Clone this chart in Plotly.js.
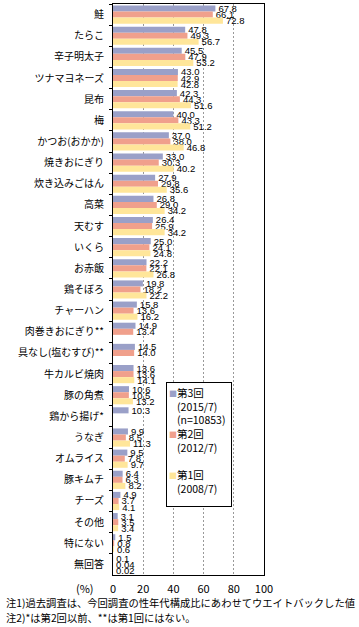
<!DOCTYPE html>
<html><head><meta charset="utf-8">
<script src="https://cdn.plot.ly/plotly-3.0.1.min.js"></script>
<style>html,body{margin:0;padding:0;background:#fff}</style>
</head><body><div id="chart" style="width:359px;height:627px"></div>
<script>
const categories = ['鮭','たらこ','辛子明太子','ツナマヨネーズ','昆布','梅','かつお(おかか)','焼きおにぎり','炊き込みごはん','高菜','天むす','いくら','お赤飯','鶏そぼろ','チャーハン','肉巻きおにぎり**','具なし(塩むすび)**','牛カルビ焼肉','豚の角煮','鶏から揚げ*','うなぎ','オムライス','豚キムチ','チーズ','その他','特にない','無回答'];
const round3 = [67.8,47.8,45.5,43.0,42.3,40.0,37.0,33.0,27.9,26.8,26.4,25.0,22.2,19.8,15.8,14.9,14.5,13.6,10.6,10.3,9.9,9.5,6.4,4.9,3.1,1.5,0.1];
const round2 = [66.1,49.3,47.9,42.9,44.3,43.3,38.0,30.3,29.8,29.0,25.9,24.1,22.1,18.2,13.6,13.4,14.0,13.6,10.5,null,8.5,7.8,6.3,3.7,3.5,0.8,0.04];
const round1 = [72.8,56.7,53.2,42.8,51.6,51.2,46.8,40.2,35.6,34.2,34.2,24.8,26.8,22.2,16.2,null,null,14.1,13.2,null,11.3,9.7,8.2,4.1,3.4,0.6,0.02];
const seriesNames = ['第3回','第2回','第1回'];
const periods = ['(2015/7)','(2012/7)','(2008/7)'];
const sampleNote = '(n=10853)';
const xTicks = [0,20,40,60,80,100];
const notes = ['注1)過去調査は、今回調査の性年代構成比にあわせてウエイトバックした値','注2)*は第2回以前、**は第1回にはない。'];

const colors = ['#9AA0C8','#F0A08C','#FFE69A'];
const FONT = '"Noto Sans CJK JP", "Noto Sans", sans-serif';

function fmt(v){
  if(v===null) return '';
  return Math.abs(Math.round(v*10)-v*10)<1e-9 ? v.toFixed(1) : String(v);
}

const allSeries = [round3, round2, round1];
const traces = allSeries.map((vals,i)=>({
  type:'bar', orientation:'h',
  name: seriesNames[i],
  y: categories, x: vals,
  text: vals.map(fmt),
  textposition:'outside',
  constraintext:'none',
  cliponaxis:false,
  textfont:{family:'"Liberation Sans", Arial, sans-serif', size:9.5, color:'#000'},
  marker:{color:colors[i], line:{width:0}},
  hoverinfo:'x+y',
  showlegend:false
}));

const hidden = '<span style="color:#ffffff;font-size:8px">■</span>';
function sw(i){ return '<span style="color:'+colors[i]+';font-size:8px">■</span>'; }
const legendText = [
  sw(0)+seriesNames[0], hidden+periods[0], hidden+sampleNote,
  sw(1)+seriesNames[1], hidden+periods[1], ' ',
  sw(2)+seriesNames[2], hidden+periods[2]
].join('<br>');

const layout = {
  width:359, height:627,
  margin:{l:113, r:95, t:4, b:52},
  paper_bgcolor:'#fff', plot_bgcolor:'#fff',
  font:{family:FONT, size:10, color:'#000'},
  barmode:'group', bargap:0.14, bargroupgap:0,
  xaxis:{
    range:[0,100], tickvals:xTicks, ticktext:xTicks.map(String),
    showgrid:true, gridcolor:'#999', griddash:'2px,2px', gridwidth:1,
    showline:true, linecolor:'#000', linewidth:1, mirror:true,
    ticks:'', zeroline:false, ticklabelstandoff:4,
    tickfont:{family:FONT, size:11, color:'#000'}, fixedrange:true
  },
  yaxis:{
    type:'category', autorange:'reversed',
    showline:true, linecolor:'#000', linewidth:1, mirror:true,
    ticks:'outside', ticklen:3, tickcolor:'#000', tickson:'boundaries',
    showgrid:false, ticklabelstandoff:6,
    tickfont:{family:FONT, size:10, color:'#000'}, fixedrange:true
  },
  annotations:[
    {xref:'paper', yref:'paper', x:0.351, y:0.338, xanchor:'left', yanchor:'top',
     text:legendText, showarrow:false, align:'left', valign:'top',
     width:60, height:119, borderpad:2, bordercolor:'#000', borderwidth:1, bgcolor:'#fff',
     font:{family:FONT, size:10.5, color:'#000'}},
    {xref:'paper', yref:'paper', x:-0.185, y:-0.0236, xanchor:'center', yanchor:'middle',
     text:'(%)', showarrow:false, font:{family:FONT, size:11, color:'#000'}},
    {xref:'paper', yref:'paper', x:-0.722, y:-0.0473, xanchor:'left', yanchor:'middle',
     text:notes[0], showarrow:false, font:{family:FONT, size:10.3, color:'#000'}},
    {xref:'paper', yref:'paper', x:-0.722, y:-0.0736, xanchor:'left', yanchor:'middle',
     text:notes[1], showarrow:false, font:{family:FONT, size:10.3, color:'#000'}}
  ]
};

Plotly.newPlot('chart', traces, layout, {displayModeBar:false, staticPlot:true});
</script></body></html>
